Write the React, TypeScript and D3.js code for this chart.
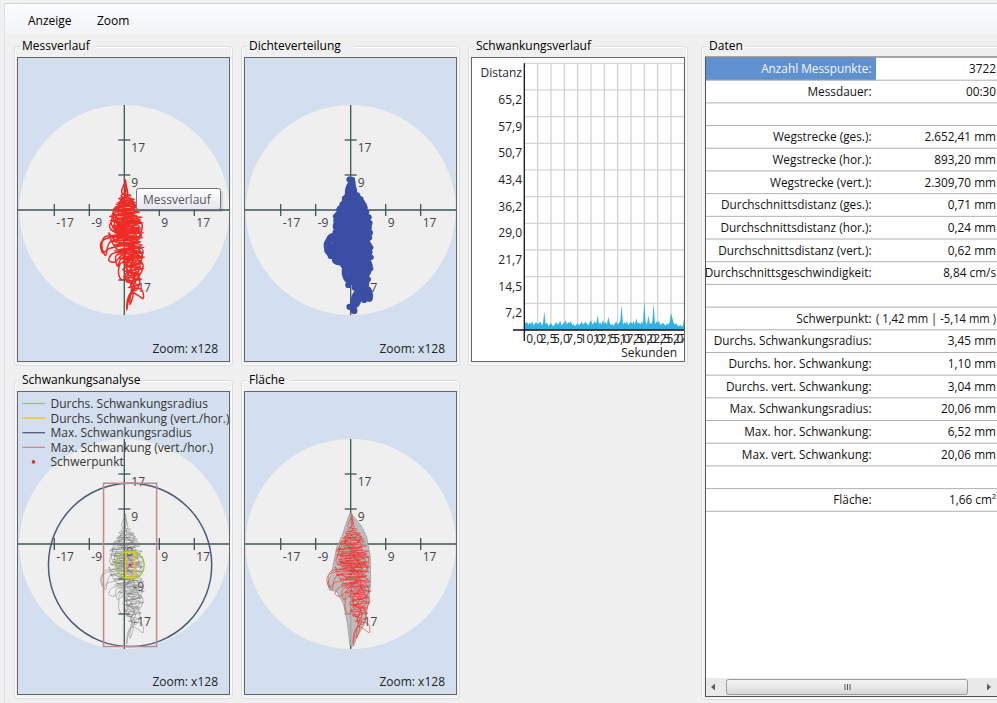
import React from "react";
import * as d3 from "d3";

const FONT = "'Open Sans', 'Noto Sans', sans-serif";

// ---------- data ----------
const menuItems = ["Anzeige", "Zoom"];

// sway trace (mm, x right, y up)
const trace: [number, number][] = [
  [0.5, -2.0], [-1.2, 0.8], [1.8, 2.2], [-0.8, 3.5], [0.4, 4.4], [0.3, 7.4], [0.6, 3.0], [2.4, 2.6], [-1.6, 1.8], [3.2, 1.2],
  [-2.6, 0.4], [3.8, -0.5], [-3.2, -1.2], [4.4, -1.8], [-3.5, -2.6], [4.6, -3.2], [-2.8, -3.8], [4.2, -4.4], [-3.4, -5.0], [4.7, -5.6],
  [-3.0, -6.2], [4.5, -6.8], [-4.4, -7.0], [-5.8, -8.2], [-5.2, -10.6], [-4.0, -9.6], [3.8, -8.0], [-2.6, -8.6], [4.8, -9.2], [-1.8, -9.8],
  [4.6, -10.4], [-2.0, -11.2], [-1.6, -13.8], [-0.8, -12.0], [4.9, -11.6], [-0.5, -12.6], [4.4, -13.2], [0.2, -13.8], [4.8, -14.4], [0.0, -15.0],
  [3.8, -15.6], [-0.2, -16.4], [4.2, -17.0], [0.4, -17.6], [3.6, -18.4], [1.0, -19.0], [4.3, -19.6], [4.6, -21.8], [3.4, -21.0], [1.8, -20.2],
  [0.8, -22.0], [0.6, -24.6], [1.2, -21.5], [2.6, -19.0], [0.8, -17.0], [3.5, -16.0], [-0.4, -14.6], [4.2, -12.8], [-1.4, -11.8], [3.6, -10.8],
  [-2.4, -10.0], [4.4, -8.6], [-3.6, -7.6], [3.2, -7.2], [-4.8, -6.6], [-5.5, -9.0], [-4.6, -11.2], [-3.6, -8.0], [2.8, -6.0], [-2.2, -5.4],
  [4.0, -4.8], [-3.0, -4.4], [3.4, -3.6], [-2.4, -3.0], [4.0, -2.4], [-3.6, -1.6], [2.8, -0.8], [-2.8, 0.0], [3.4, 0.6], [-2.0, 1.4],
  [2.8, 1.8], [-1.4, 2.8], [1.6, 3.6], [-0.6, 4.2], [0.1, 6.4], [0.8, 3.8], [-1.0, 2.2], [2.2, 0.6], [-1.8, -0.6], [3.0, -1.4],
  [-2.2, -2.2], [3.6, -2.8], [-1.4, -3.4], [2.4, -4.0], [-2.6, -4.6], [3.8, -5.2], [-1.8, -6.0], [3.0, -6.6], [-0.8, -7.4], [4.0, -7.8],
  [-1.2, -8.4], [2.4, -9.0], [-0.4, -9.6], [3.2, -10.0], [0.6, -10.8], [3.8, -11.2], [1.0, -12.0], [3.0, -12.6], [1.4, -13.4], [3.6, -14.0],
  [1.2, -15.2], [2.6, -16.2], [1.6, -18.0], [2.2, -20.6], [1.4, -23.2], [1.8, -19.4], [2.8, -17.2], [1.0, -15.8], [2.4, -13.0], [0.2, -11.4],
  [1.6, -8.0], [0.0, -6.4], [2.0, -5.0], [1.0, -3.4], [0.2, -1.0],
  [-1.5, 0.2], [-0.4, 2.6], [1.2, 1.0], [2.6, -0.2], [1.0, -1.8], [-1.0, -2.8], [-2.8, -2.0], [-2.0, 0.8], [0.2, 0.0], [1.8, -2.6],
  [3.6, -4.0], [2.2, -5.8], [0.4, -4.8], [-1.6, -5.8], [-3.6, -4.2], [-3.0, -2.8], [-1.2, -3.8], [0.8, -6.2], [2.8, -7.6], [4.2, -6.2],
  [3.0, -4.6], [1.2, -5.6], [-0.6, -8.2], [-2.6, -7.2], [-3.8, -5.6], [-2.2, -9.2], [-0.2, -10.2], [2.0, -8.6], [3.6, -9.6], [4.4, -11.8],
  [2.6, -13.6], [0.8, -12.4], [-1.0, -10.6], [-3.0, -10.8], [-3.8, -12.4], [-2.4, -12.8], [-0.6, -11.0], [1.4, -9.6], [3.0, -11.4], [3.8, -14.6],
  [2.0, -15.8], [0.6, -14.2], [1.8, -12.0], [3.4, -12.2], [4.6, -13.6], [3.2, -16.8], [1.2, -17.8], [0.2, -16.0], [1.6, -14.8], [2.8, -15.0],
  [3.8, -17.8], [2.8, -19.8], [1.6, -18.6], [2.4, -16.6], [1.0, -13.6], [-0.8, -13.0], [-1.4, -15.6], [-0.6, -17.2], [0.8, -16.0], [0.4, -13.0],
  [2.4, -11.0], [1.6, -7.0], [-0.4, -5.4], [-2.4, -4.0], [-1.6, -1.2], [0.6, -0.6], [2.4, 1.6], [1.2, 3.0], [-0.4, 1.4], [-2.4, -0.8],
  [-3.2, -3.4], [-1.8, -4.8], [0.6, -3.0], [3.2, -2.2], [4.4, -3.8], [3.4, -6.6], [1.8, -4.2], [0.0, -2.2],
];

// isolated density points (mm)
const densityOutliers: [number, number][] = [
  [-0.6, -18.4], [1.1, -19.0], [1.9, -19.3], [3.8, -20.5], [3.3, -22.1], [-0.3, -23.8], [0.9, -24.8],
  [-5.5, -7.8], [-5.7, -10.0], [-4.9, -11.3], [-0.3, 7.5],
];

// area outline (mm)
const areaOutline: [number, number][] = [
  [-0.2, 7.5], [1.1, 6.3], [2.7, 4.3], [3.9, 1.8], [4.8, -3.1], [4.9, -9.7], [4.3, -14.6], [3.5, -19.5], [1.5, -22.8], [0.7, -25.1],
  [-0.2, -24.8], [-0.8, -19.5], [-1.8, -14.6], [-3.4, -11.7], [-5.2, -11.3], [-5.7, -9.7], [-4.7, -7.2], [-3.4, -0.7], [-2.2, 1.8], [-1.1, 5.1],
];

const axisTickValues = [-17.2, -8.6, 8.6, 17.2];
const axisTickLabels = ["-17", "-9", "9", "17"];

// statistics
const centroid: [number, number] = [1.42, -5.14];
const meanRadius = 3.45;
const meanHor = 1.1;
const meanVert = 3.04;
const maxRadius = 20.06;
const maxHor = 6.52;
const maxVert = 20.06;

const legendLabels = [
  "Durchs. Schwankungsradius",
  "Durchs. Schwankung (vert./hor.)",
  "Max. Schwankungsradius",
  "Max. Schwankung (vert./hor.)",
  "Schwerpunkt",
];
const legendColors = ["#9acd3a", "#f2c418", "#4c5b7c", "#c48a8a", "#e83030"];

// Schwankungsverlauf (distance per 0.25 s)
const swayDistance = [
  2.6, 1.8, 2.2, 1.4, 2.0, 1.6, 2.4, 1.2, 1.8, 2.1, 1.5, 1.9, 2.3, 1.3, 1.7, 5.0, 1.6, 2.0, 1.1, 1.5,
  1.9, 1.3, 1.0, 1.6, 2.2, 1.4, 1.8, 2.5, 1.2, 1.7, 2.0, 2.6, 1.5, 2.2, 1.8, 2.4, 1.3, 1.6, 1.0, 1.4,
  1.9, 1.2, 1.7, 2.3, 1.5, 1.8, 2.2, 1.6, 1.3, 2.0, 2.7, 1.5, 1.9, 2.4, 1.7, 4.1, 1.6, 2.1, 1.4, 2.8,
  1.7, 2.2, 1.5, 3.6, 2.0, 1.3, 1.6, 1.1, 1.8, 2.3, 1.4, 1.9, 2.6, 6.8, 1.5, 2.1, 1.7, 2.4, 1.3, 1.9,
  2.2, 1.6, 2.5, 1.4, 3.2, 1.8, 2.0, 1.5, 2.3, 1.7, 7.7, 2.1, 1.4, 4.0, 1.9, 1.6, 2.2, 7.2, 1.5, 2.4,
  1.8, 2.6, 1.3, 1.7, 2.0, 1.5, 1.2, 1.8, 1.4, 2.1, 4.6, 3.3, 1.9, 1.5, 1.8, 1.2, 1.0, 1.4, 0.9, 1.3, 3.2,
];
const distTicks = [7.24, 14.49, 21.73, 28.98, 36.22, 43.47, 50.71, 57.96, 65.2];
const distTickLabels = ["7,2", "14,5", "21,7", "29,0", "36,2", "43,4", "50,7", "57,9", "65,2"];
const timeTicks = [0, 2.5, 5, 7.5, 10, 12.5, 15, 17.5, 20, 22.5, 25, 27.5, 30];
const timeTickLabels = ["0,0", "2,5", "5,0", "7,5", "10,0", "12,5", "15,0", "17,5", "20,0", "22,5", "25,0", "27,5", "30,0"];

const tableLabels = [
  "Anzahl Messpunkte:", "Messdauer:", "", "Wegstrecke (ges.):", "Wegstrecke (hor.):", "Wegstrecke (vert.):",
  "Durchschnittsdistanz (ges.):", "Durchschnittsdistanz (hor.):", "Durchschnittsdistanz (vert.):", "Durchschnittsgeschwindigkeit:",
  "", "Schwerpunkt:", "Durchs. Schwankungsradius:", "Durchs. hor. Schwankung:", "Durchs. vert. Schwankung:",
  "Max. Schwankungsradius:", "Max. hor. Schwankung:", "Max. vert. Schwankung:", "", "Fläche:",
];
const tableValues = [
  "3722", "00:30", "", "2.652,41 mm", "893,20 mm", "2.309,70 mm", "0,71 mm", "0,24 mm", "0,62 mm", "8,84 cm/s",
  "", "( 1,42 mm | -5,14 mm )", "3,45 mm", "1,10 mm", "3,04 mm", "20,06 mm", "6,52 mm", "20,06 mm", "", "1,66 cm²",
];

// ---------- helpers ----------
const W = 997;
const H = 703;
const R_PX = 105;
const DOMAIN = 25.8;

function makeScales(cx: number, cy: number) {
  const x = d3.scaleLinear().domain([-DOMAIN, DOMAIN]).range([cx - R_PX, cx + R_PX]);
  const y = d3.scaleLinear().domain([-DOMAIN, DOMAIN]).range([cy + R_PX, cy - R_PX]);
  return { x, y };
}

function traceLine(x: d3.ScaleLinear<number, number>, y: d3.ScaleLinear<number, number>) {
  return d3
    .line<[number, number]>()
    .x((d) => x(d[0]))
    .y((d) => y(d[1]))
    .curve(d3.curveCatmullRom.alpha(0.5));
}

function GroupBox({ x, y, w, h, title }: { x: number; y: number; w: number; h: number; title: string }) {
  const tw = title.length * 6.3 + 6;
  return (
    <g>
      <rect x={x + 0.5} y={y + 0.5} width={w} height={h} rx={3} fill="none" stroke="#d5dfe5" />
      <rect x={x + 1.5} y={y + 1.5} width={w - 2} height={h - 2} rx={3} fill="none" stroke="#ffffff" />
      <rect x={x + 6} y={y - 6} width={tw} height={12} fill="#f0f0f0" />
      <text x={x + 8} y={y + 4} fontSize={12} fill="#000" fontFamily={FONT}>
        {title}
      </text>
    </g>
  );
}

function Target({
  rx, ry, rw, rh, cx, cy, children,
}: {
  rx: number; ry: number; rw: number; rh: number; cx: number; cy: number; children?: React.ReactNode;
}) {
  const { x, y } = makeScales(cx, cy);
  const axisColor = "#3d5656";
  const id = `clip${rx}_${ry}`;
  return (
    <g>
      <defs>
        <clipPath id={id}>
          <rect x={rx} y={ry} width={rw} height={rh} />
        </clipPath>
      </defs>
      <g clipPath={`url(#${id})`}>
        <rect x={rx} y={ry} width={rw} height={rh} fill="#d3dfee" />
        <circle cx={x(0)} cy={y(0)} r={x(DOMAIN) - x(0)} fill="#efefef" />
        <line x1={rx} x2={rx + rw} y1={y(0)} y2={y(0)} stroke={axisColor} strokeWidth={1.3} />
        <line x1={x(0)} x2={x(0)} y1={y(DOMAIN)} y2={y(-DOMAIN)} stroke={axisColor} strokeWidth={1.3} />
        {axisTickValues.map((v, i) => (
          <g key={i}>
            <line x1={x(v)} x2={x(v)} y1={y(0) - 6} y2={y(0) + 6} stroke={axisColor} strokeWidth={1.3} />
            <text x={x(v) + 2} y={y(0) + 17} fontSize={12} fill="#444" fontFamily={FONT}>
              {axisTickLabels[i]}
            </text>
            <line x1={x(0) - 6} x2={x(0) + 6} y1={y(v)} y2={y(v)} stroke={axisColor} strokeWidth={1.3} />
            <text x={x(0) + (v > 0 ? 7 : 9)} y={y(v) + 12} fontSize={12} fill="#444" fontFamily={FONT}>
              {axisTickLabels[i]}
            </text>
          </g>
        ))}
        <text x={x(0) + 2} y={y(0) + 12} fontSize={12} fill="#444" fontFamily={FONT}>
          0
        </text>
        {children}
        <text x={rx + rw - 12} y={ry + rh - 9} fontSize={12} fill="#222" textAnchor="end" fontFamily={FONT}>
          Zoom: x128
        </text>
      </g>
      <rect x={rx + 0.5} y={ry + 0.5} width={rw - 1} height={rh - 1} fill="none" stroke="#666" />
    </g>
  );
}

function TracePanel() {
  const cx = 124.3, cy = 210;
  const { x, y } = makeScales(cx, cy);
  const line = traceLine(x, y);
  return (
    <Target rx={17} ry={57} rw={213} rh={305} cx={cx} cy={cy}>
      <path d={line(trace) || ""} fill="none" stroke="#ee2b24" strokeWidth={1.5} strokeLinejoin="round" />
      <g>
        <defs>
          <linearGradient id="tipGrad" x1="0" y1="0" x2="0" y2="1">
            <stop offset="0" stopColor="#ffffff" />
            <stop offset="1" stopColor="#e4e5f0" />
          </linearGradient>
        </defs>
        <rect x={139} y={191} width={84} height={21} rx={2} fill="#000" opacity={0.12} />
        <rect x={136.5} y={188.5} width={84} height={21} rx={2} fill="url(#tipGrad)" stroke="#767676" />
        <text x={143} y={203.5} fontSize={12} fill="#575757" fontFamily={FONT}>
          Messverlauf
        </text>
      </g>
    </Target>
  );
}

function DensityPanel() {
  const cx = 350.7, cy = 210;
  const { x, y } = makeScales(cx, cy);
  const line = traceLine(x, y);
  return (
    <Target rx={244} ry={57} rw={213} rh={305} cx={cx} cy={cy}>
      <path d={line(trace) || ""} fill="none" stroke="#3b4ea6" strokeWidth={6.5} strokeLinejoin="round" strokeLinecap="round" />
      {densityOutliers.map((d, i) => (
        <circle key={i} cx={x(d[0])} cy={y(d[1])} r={3.1} fill="#3b4ea6" />
      ))}
    </Target>
  );
}

function AnalysisPanel() {
  const cx = 124.3, cy = 544;
  const { x, y } = makeScales(cx, cy);
  const line = traceLine(x, y);
  const k = x(1) - x(0);
  return (
    <Target rx={17} ry={391} rw={213} rh={304} cx={cx} cy={cy}>
      <path d={line(trace) || ""} fill="none" stroke="#6e6e6e" strokeOpacity={0.45} strokeWidth={1} />
      <circle cx={x(centroid[0])} cy={y(centroid[1])} r={maxRadius * k} fill="none" stroke={legendColors[2]} strokeWidth={1.5} />
      <rect
        x={x(centroid[0] - maxHor)} y={y(centroid[1] + maxVert)} width={2 * maxHor * k} height={2 * maxVert * k}
        fill="none" stroke={legendColors[3]} strokeWidth={1.5}
      />
      <circle cx={x(centroid[0])} cy={y(centroid[1])} r={meanRadius * k} fill="none" stroke={legendColors[0]} strokeWidth={1.5} />
      <rect
        x={x(centroid[0] - meanHor)} y={y(centroid[1] + meanVert)} width={2 * meanHor * k} height={2 * meanVert * k}
        fill="none" stroke={legendColors[1]} strokeWidth={1.5}
      />
      <circle cx={x(centroid[0])} cy={y(centroid[1])} r={1.5} fill={legendColors[4]} />
      {legendLabels.map((l, i) => {
        const ly = 403.5 + i * 14.6;
        return (
          <g key={i}>
            {i < 4 ? (
              <line x1={22.5} x2={45} y1={ly} y2={ly} stroke={legendColors[i]} strokeWidth={1.3} />
            ) : (
              <circle cx={33.5} cy={ly} r={1.8} fill={legendColors[i]} />
            )}
            <text x={50.5} y={ly + 4.5} fontSize={12} fill="#333" fontFamily={FONT}>
              {l}
            </text>
          </g>
        );
      })}
    </Target>
  );
}

function AreaPanel() {
  const cx = 350.7, cy = 544;
  const { x, y } = makeScales(cx, cy);
  const line = traceLine(x, y);
  const area = d3.line<[number, number]>().x((d) => x(d[0])).y((d) => y(d[1])).curve(d3.curveLinearClosed);
  return (
    <Target rx={244} ry={391} rw={213} rh={304} cx={cx} cy={cy}>
      <path d={area(areaOutline) || ""} fill="#b4b4b4" fillOpacity={0.85} stroke="#9a9a9a" strokeWidth={0.8} />
      <path d={line(trace) || ""} fill="none" stroke="#f02a24" strokeOpacity={0.6} strokeWidth={1} />
    </Target>
  );
}

function SwayChart() {
  const left = 524.3, right = 684.3, top = 63.3, bottom = 330;
  const x = d3.scaleLinear().domain([0, 30]).range([left, right]);
  const y = d3.scaleLinear().domain([0, 72.44]).range([bottom, top]);
  const t = swayDistance.map((_, i) => i * 0.25);
  const area = d3
    .area<number>()
    .x((_, i) => x(t[i]))
    .y0(y(0))
    .y1((d) => y(d));
  return (
    <g>
      <defs>
        <clipPath id="swayClip">
          <rect x={471} y={57} width={214} height={305} />
        </clipPath>
      </defs>
      <rect x={471} y={57} width={214} height={305} fill="#fff" />
      <g clipPath="url(#swayClip)">
        {distTicks.concat([72.44]).map((v, i) => (
          <line key={"h" + i} x1={left} x2={right + 2} y1={y(v)} y2={y(v)} stroke="#d4d4d4" strokeWidth={1.3} />
        ))}
        {timeTicks.slice(1).map((v, i) => (
          <line key={"v" + i} x1={x(v)} x2={x(v)} y1={top} y2={bottom} stroke="#d4d4d4" strokeWidth={1.3} />
        ))}
        <path d={area(swayDistance) || ""} fill="#2fb2e6" />
        <line x1={513} x2={685} y1={bottom} y2={bottom} stroke="#111" strokeWidth={1.3} />
        <line x1={left} x2={left} y1={top} y2={341} stroke="#111" strokeWidth={1.3} />
        {timeTicks.map((v, i) => (
          <text key={"tl" + i} x={x(v) + 2} y={343} fontSize={12} fill="#222" fontFamily={FONT}>
            {timeTickLabels[i]}
          </text>
        ))}
        {distTicks.map((v, i) => (
          <text key={"dl" + i} x={522} y={y(v) + 14} fontSize={12} fill="#222" textAnchor="end" fontFamily={FONT}>
            {distTickLabels[i]}
          </text>
        ))}
        <text x={522} y={77} fontSize={12} fill="#331c3c" textAnchor="end" fontFamily={FONT}>
          Distanz
        </text>
        <text x={677} y={357} fontSize={12} fill="#222" textAnchor="end" fontFamily={FONT}>
          Sekunden
        </text>
      </g>
      <rect x={471.5} y={57.5} width={213} height={304} fill="none" stroke="#666" />
    </g>
  );
}

function DataTable() {
  const top = 57.5;
  const rowH = 22.69;
  const left = 705;
  const split = 876;
  const fs = 11.8;
  return (
    <g>
      <rect x={left} y={57} width={W - left + 5} height={640} fill="#fff" />
      <rect x={left + 1} y={top} width={split - left - 1} height={rowH} fill="#5f90cf" />
      {tableLabels.map((l, i) => {
        const cy = top + i * rowH + rowH / 2;
        const v = tableValues[i];
        return (
          <g key={i}>
            <line x1={left} x2={W} y1={top + (i + 1) * rowH} y2={top + (i + 1) * rowH} stroke="#b0b0b0" />
            <text x={871.5} y={cy + 4.3} fontSize={fs} textAnchor="end" fill={i === 0 ? "#f4f8fd" : "#111"} fontFamily={FONT}>
              {l}
            </text>
            <text
              x={996} y={cy + 4.3} fontSize={fs} textAnchor="end" fill="#111" fontFamily={FONT}
              {...(v.length > 16 ? { textLength: 120, lengthAdjust: "spacingAndGlyphs" } : {})}
            >
              {v}
            </text>
          </g>
        );
      })}
      <rect x={left + 1} y={678} width={W - left} height={18} fill="#e9e9e9" />
      <defs>
        <linearGradient id="thumbGrad" x1="0" y1="0" x2="0" y2="1">
          <stop offset="0" stopColor="#f4f4f4" />
          <stop offset="0.5" stopColor="#e8e8e8" />
          <stop offset="1" stopColor="#d6d6d6" />
        </linearGradient>
      </defs>
      <rect x={726.5} y={679.5} width={241} height={15} rx={2} fill="url(#thumbGrad)" stroke="#9c9c9c" />
      <g stroke="#555" strokeWidth={1}>
        <line x1={845} x2={845} y1={684} y2={690} />
        <line x1={847.5} x2={847.5} y1={684} y2={690} />
        <line x1={850} x2={850} y1={684} y2={690} />
      </g>
      <path d="M 711 687 L 715 683.5 L 715 690.5 Z" fill="#606060" />
      <path d="M 991 687 L 987 683.5 L 987 690.5 Z" fill="#606060" />
      <line x1={left} x2={W} y1={696.5} y2={696.5} stroke="#555" />
      <line x1={left + 0.5} x2={left + 0.5} y1={57} y2={697} stroke="#555" />
      <line x1={left} x2={W} y1={57} y2={57} stroke="#555" />
    </g>
  );
}

export default function App() {
  return (
    <div style={{ position: "absolute", left: 0, top: 0, width: W, height: H, overflow: "hidden" }}>
      <svg width={W} height={H} style={{ display: "block" }} fontFamily={FONT}>
        <rect x={0} y={0} width={W} height={H} fill="#f0f0f0" />
        <defs>
          <linearGradient id="menuGrad" x1="0" y1="0" x2="0" y2="1">
            <stop offset="0" stopColor="#fbfcfd" />
            <stop offset="1" stopColor="#f1f3f6" />
          </linearGradient>
        </defs>
        <rect x={5} y={4} width={W - 5} height={30} fill="url(#menuGrad)" />
        <line x1={5} x2={W} y1={3.5} y2={3.5} stroke="#c5d5e6" />
        <line x1={4.5} x2={4.5} y1={3.5} y2={H} stroke="#d8e2ec" />
        {menuItems.map((m, i) => (
          <text key={m} x={[28, 97][i]} y={25} fontSize={12} fill="#000" fontFamily={FONT}>
            {m}
          </text>
        ))}
        <GroupBox x={14} y={46} w={218} h={319} title="Messverlauf" />
        <GroupBox x={241} y={46} w={218} h={319} title="Dichteverteilung" />
        <GroupBox x={468} y={46} w={219} h={319} title="Schwankungsverlauf" />
        <GroupBox x={14} y={380} w={218} h={318} title="Schwankungsanalyse" />
        <GroupBox x={241} y={380} w={218} h={318} title="Fläche" />
        <GroupBox x={701} y={46} w={310} h={653} title="Daten" />
        <TracePanel />
        <DensityPanel />
        <SwayChart />
        <AnalysisPanel />
        <AreaPanel />
        <DataTable />
      </svg>
    </div>
  );
}
